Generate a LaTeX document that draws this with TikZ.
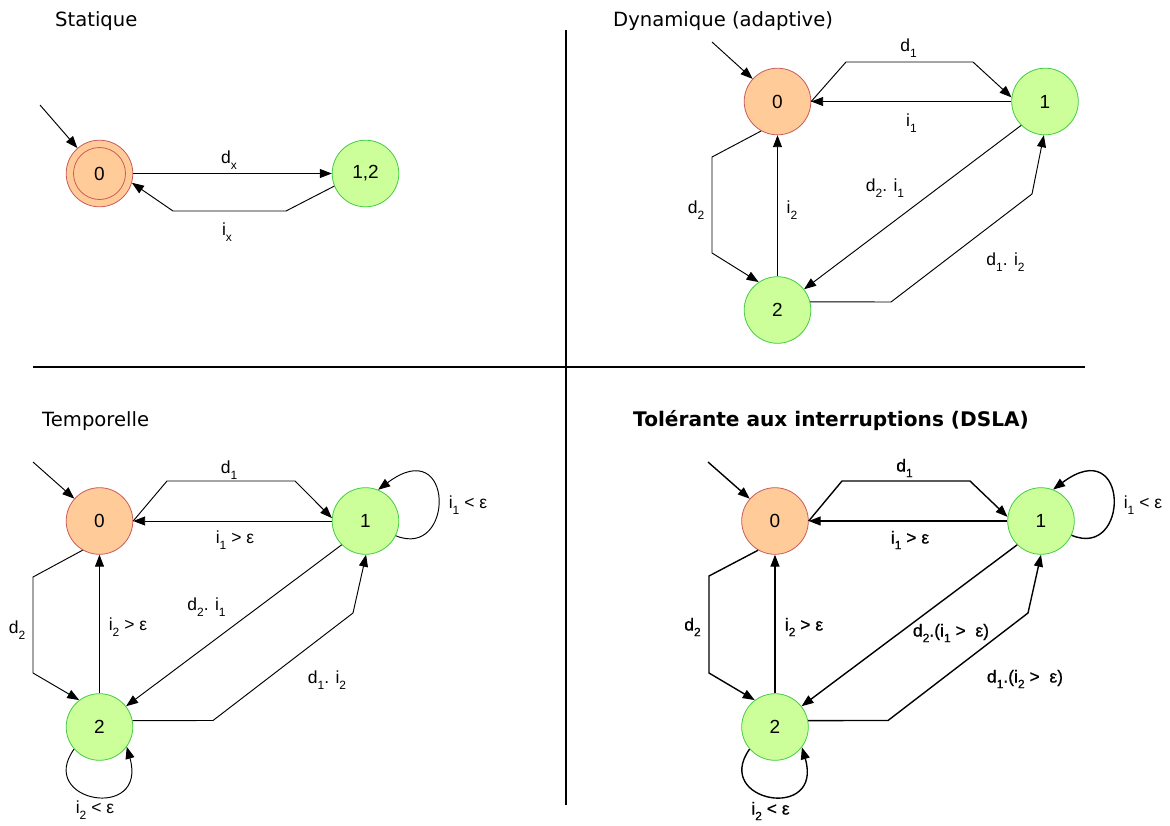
\documentclass[tikz,border=0pt]{standalone}
\usepackage{fontspec}
\setmainfont{Liberation Sans}
\newfontfamily\titlefont{DejaVu Sans}
\newfontfamily\semibold[FakeBold=0.7]{Liberation Sans}
\usetikzlibrary{arrows.meta}
\definecolor{orfill}{HTML}{FFCC99}
\definecolor{ordraw}{HTML}{CC5A5A}
\definecolor{grfill}{HTML}{CCFF99}
\definecolor{grdraw}{HTML}{44CC44}
\newcommand\sbs[1]{\raisebox{-0.32em}{\fontsize{12}{12}\selectfont #1}}
\tikzset{
  stnode/.style={circle, minimum size=66.6pt, inner sep=0pt, font=\fontsize{19}{19}\selectfont, line width=0.8pt},
  st0/.style={stnode, fill=orfill, draw=ordraw},
  stg/.style={stnode, fill=grfill, draw=grdraw},
  conn/.style={draw, line width=0.95pt, -{Triangle[length=12pt,width=9pt]}},
  connb/.style={conn, line width=1.4pt},
  lbl/.style={font=\fontsize{17.5}{17.5}\selectfont, inner sep=0pt},
  lblb/.style={font=\semibold\fontsize{17.5}{17.5}\selectfont, inner sep=0pt},
  ttl/.style={font=\titlefont\fontsize{19.6}{19.6}\selectfont, anchor=base west, inner sep=0pt},
  divider/.style={line width=1.6pt},
}
\begin{document}
\begin{tikzpicture}[x=1pt,y=-1pt]
\useasboundingbox[fill=white] (0,0) rectangle (1170,825);

% dividers
\coordinate (hl) at (33,367);
\coordinate (hr) at (1085,367);
\coordinate (vt) at (566,30);
\coordinate (vb) at (566,805);
\draw[divider] (hl) -- (hr);
\draw[divider] (vt) -- (vb);

% titles
\node[ttl] (t1) at (55,26) {Statique};
\node[ttl] (t2) at (613,26) {Dynamique (adaptive)};
\node[ttl] (t3) at (42,426) {Temporelle};
\node[ttl, font=\titlefont\bfseries\fontsize{20.1}{20.1}\selectfont] (t4) at (633,426) {Tolérante aux interruptions (DSLA)};

% ---------- Panel 1 : Statique
\node[st0] (a0) at (99.5,173.5) {0};
\node[circle, draw=ordraw, line width=0.8pt, minimum size=52pt, inner sep=0pt] (a0in) at (a0.center) {};
\node[stg] (a12) at (365.5,173.5) {1,2};
\coordinate (ia) at (40,105);
\draw[conn] (ia) -- (a0);
\draw[conn] (a0.east) -- (a12.west);
\draw[conn] (a12.202) -- (286,211) -- (173,211) -- (a0.-16);
\node[lbl] (ldx) at (229,160) {d\sbs{x}};
\node[lbl] (lix) at (227,232) {i\sbs{x}};

% ---------- Panel 2 : Dynamique
\node[st0] (b0) at (777.5,101.5) {0};
\node[stg] (b1) at (1045,101.5) {1};
\node[stg] (b2) at (777.5,310) {2};
\coordinate (ib) at (712,42);
\draw[conn] (ib) -- (b0);
\draw[conn] (b0.east) -- (846,62) -- (973,62) -- (b1.173);
\draw[conn] (b1.west) -- (b0.east);
\draw[conn] (b0.241) -- (712,157) -- (712,253) -- (b2.124);
\draw[conn] (b2.north) -- (b0.south);
\draw[conn] (b1.225) -- (b2.38);
\draw[conn] (b2.14) -- (891,302) -- (1032,194) -- (b1.268);
\node[lbl] (lb1) at (908.5,48) {d\sbs{1}};
\node[lbl] (lb2) at (911.5,123) {i\sbs{1}};
\node[lbl] (lb3) at (696,210) {d\sbs{2}};
\node[lbl] (lb4) at (792,210) {i\sbs{2}};
\node[lbl] (lb5) at (885,188) {d\sbs{2}. i\sbs{1}};
\node[lbl] (lb6) at (1005.5,262) {d\sbs{1}. i\sbs{2}};

% ---------- Panel 3 : Temporelle
\node[st0] (c0) at (99.5,521) {0};
\node[stg] (c1) at (365.5,521) {1};
\node[stg] (c2) at (99.5,727) {2};
\coordinate (ic) at (33,462);
\draw[conn] (ic) -- (c0);
\draw[conn] (c0.east) -- (167,481) -- (295,481) -- (c1.175);
\draw[conn] (c1.west) -- (c0.east);
\draw[conn] (c0.240) -- (33,577) -- (33,673) -- (c2.127);
\draw[conn] (c2.north) -- (c0.south);
\draw[conn] (c1.225) -- (c2.38);
\draw[conn] (c2.11) -- (213,720.5) -- (353,613) -- (c1.271);
\draw[conn] (c1.-26) .. controls (455,560) and (455,432) .. (c1.68);
\draw[conn] (c2.221) .. controls (36,802) and (148,822) .. (c2.-36);
\node[lbl] (lc1) at (229,470) {d\sbs{1}};
\node[lbl] (lc2) at (235,540) {i\sbs{1} > ε};
\node[lbl] (lc3) at (17,630) {d\sbs{2}};
\node[lbl] (lc4) at (128,627) {i\sbs{2} > ε};
\node[lbl] (lc5) at (206.5,607) {d\sbs{2}. i\sbs{1}};
\node[lbl] (lc6) at (327,680) {d\sbs{1}. i\sbs{2}};
\node[lbl] (lc7) at (468,505) {i\sbs{1} < ε};
\node[lbl] (lc8) at (95,810) {i\sbs{2} < ε};

% ---------- Panel 4 : Tolerante
\node[st0] (e0) at (775,521) {0};
\node[stg] (e1) at (1041,521) {1};
\node[stg] (e2) at (775,727) {2};
\coordinate (ie) at (708,462);
\draw[connb] (ie) -- (e0);
\draw[connb] (e0.east) -- (842,481) -- (970,481) -- (e1.173);
\draw[connb] (e1.west) -- (e0.east);
\draw[connb] (e0.240) -- (709,576) -- (709,673) -- (e2.127);
\draw[connb] (e2.north) -- (e0.south);
\draw[connb] (e1.225) -- (e2.38);
\draw[connb] (e2.11) -- (888,720.5) -- (1028,613) -- (e1.270);
\draw[connb] (e1.-25) .. controls (1130,560) and (1130,432) .. (e1.69);
\draw[connb] (e2.221) .. controls (712,802) and (824,822) .. (e2.-37);
\node[lblb] (le1) at (904.5,468) {d\sbs{1}};
\node[lblb] (le2) at (910,540) {i\sbs{1} > ε};
\node[lblb] (le3) at (692.5,627) {d\sbs{2}};
\node[lblb] (le4) at (804,627) {i\sbs{2} > ε};
\node[lblb] (le5) at (951,633) {d\sbs{2}.(i\sbs{1} >\ \ ε)};
\node[lblb] (le6) at (1025,679) {d\sbs{1}.(i\sbs{2} >\ \ ε)};
\node[lbl] (le7) at (1143,505) {i\sbs{1} < ε};
\node[lblb] (le8) at (770.5,811) {i\sbs{2} < ε};
\end{tikzpicture}
\end{document}
